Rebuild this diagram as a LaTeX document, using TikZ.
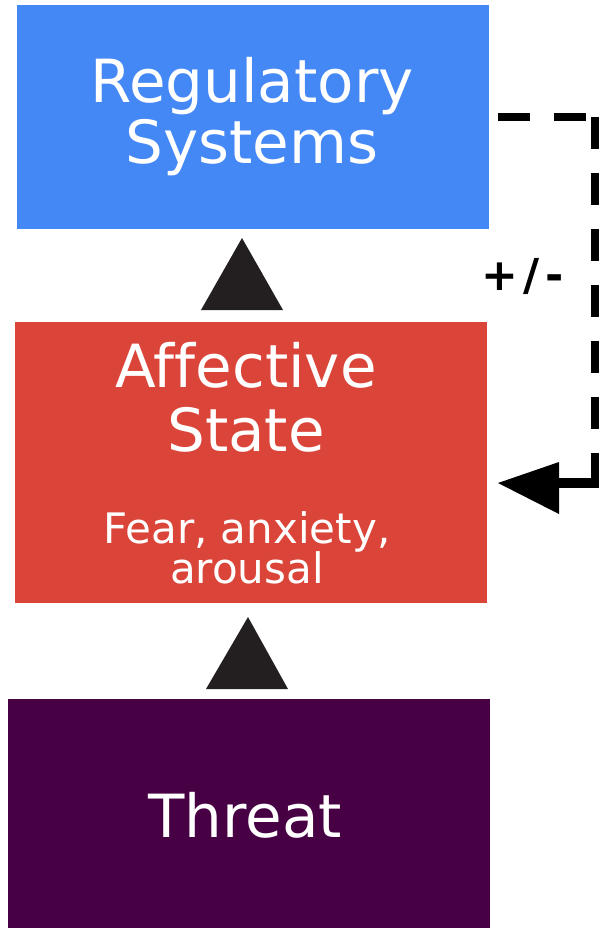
\documentclass[tikz,border=0pt]{standalone}
\usepackage{fontspec}
\setmainfont{DejaVu Sans}[Ligatures={NoCommon}]
\definecolor{regblue}{HTML}{4488F5}
\definecolor{affred}{HTML}{DB4539}
\definecolor{thrpurple}{HTML}{470043}
\definecolor{tri}{HTML}{231F20}
\tikzset{
  boxnode/.style={rectangle, draw=none, inner sep=0pt},
  bigtext/.style={text=white, anchor=base, inner sep=0pt, font=\fontsize{59.5}{64}\selectfont},
  smalltext/.style={text=white, anchor=base, inner sep=0pt, font=\fontsize{42}{40}\selectfont},
  uptri/.style={fill=tri, draw=none},
  fbdash/.style={draw=black, line width=8pt, dash pattern=on 32pt off 24pt},
  fbsolid/.style={draw=black, line width=10pt},
  fbhead/.style={fill=black, draw=none}
}
\begin{document}
\begin{tikzpicture}[x=1pt,y=-1pt]
\useasboundingbox (0,0) rectangle (601,930);
\fill[white] (0,0) rectangle (601,930);
% boxes
\node[boxnode, fill=regblue, minimum width=472pt, minimum height=224pt] (reg) at (253,117) {};
\node[boxnode, fill=affred, minimum width=472pt, minimum height=281pt] (aff) at (251,462.5) {};
\node[boxnode, fill=thrpurple, minimum width=482pt, minimum height=229pt] (thr) at (249,813.5) {};
% texts
\node[bigtext] (reg1) at (252,102) {Regulatory};
\node[bigtext] (reg2) at (252,163) {Systems};
\node[bigtext] (aff1) at (246,387) {Affective};
\node[bigtext] (aff2) at (246,451) {State};
\node[smalltext] (aff3) at (247,543) {Fear, anxiety,};
\node[smalltext] (aff4) at (247,583) {arousal};
\node[bigtext] (thr1) at (245,837) {Threat};
\node[anchor=base, inner sep=0pt, font=\fontsize{44}{44}\selectfont\bfseries] (pm) at (523,290) {+\kern5pt/\kern6pt-};
% triangles between boxes
\coordinate (t1a) at (242,238);
\coordinate (t1b) at (201,310);
\coordinate (t1c) at (283,310);
\fill[uptri] (t1a) -- (t1b) -- (t1c) -- cycle;
\coordinate (t2a) at (248,617);
\coordinate (t2b) at (206,689);
\coordinate (t2c) at (288,689);
\fill[uptri] (t2a) -- (t2b) -- (t2c) -- cycle;
% feedback connector
\coordinate (f0) at (498,117);
\coordinate (f1) at (586,117);
\coordinate (f2) at (594.5,117);
\coordinate (f3) at (594.5,488);
\coordinate (f4) at (599,483);
\coordinate (f5) at (555,483);
\coordinate (ftip) at (498,483);
\coordinate (fb1) at (559,462);
\coordinate (fb2) at (559,514);
\draw[fbdash] (f0) -- (f1);
\draw[fbdash] (f2) -- (f3);
\draw[fbsolid] (f4) -- (f5);
\fill[fbhead] (ftip) -- (fb1) -- (fb2) -- cycle;
\end{tikzpicture}
\end{document}
